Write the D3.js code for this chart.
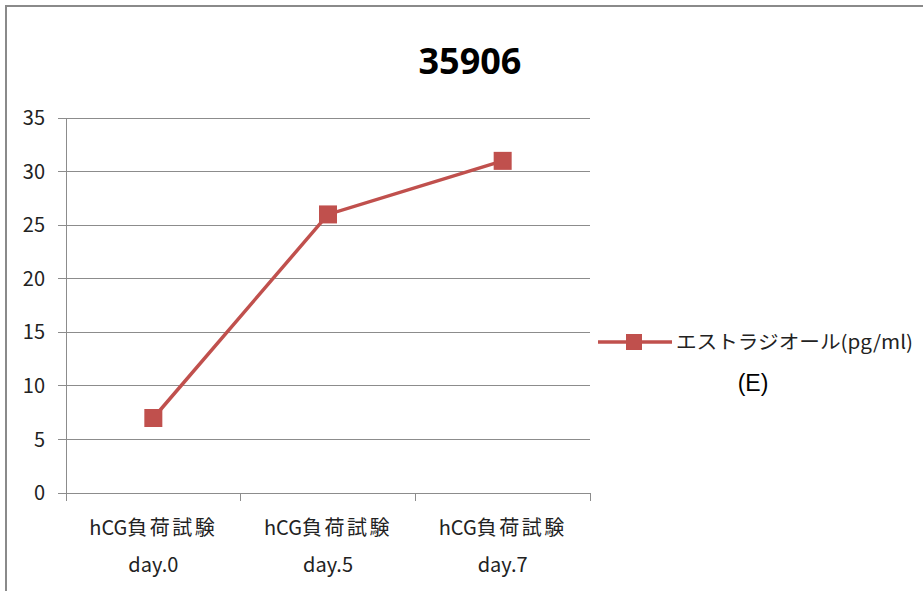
<!DOCTYPE html>
<html><head><meta charset="utf-8">
<script src="https://cdn.jsdelivr.net/npm/d3@7"></script>
<style>body{margin:0;background:#fff}svg{display:block}</style>
</head><body>
<svg id="c" width="923" height="591"></svg>
<script>
const categories = ["hCG負荷試験\nday.0", "hCG負荷試験\nday.5", "hCG負荷試験\nday.7"];
const values = [7, 26, 31];
const yTicks = [0, 5, 10, 15, 20, 25, 30, 35];
const title = "35906";
const seriesName = ["エストラジオール(pg/ml)", "(E)"];

(function(){
const svg = d3.select("#c");
const color = "#C0504D";
const font = "'Noto Sans CJK JP', 'Open Sans', sans-serif";
const pL = 66, pR = 590, pT = 118, pB = 493;

svg.append("path").attr("d","M6,600 V6 H930").attr("fill","none").attr("stroke","#8a8a8a").attr("stroke-width",2);

const x = d3.scaleBand().domain(categories).range([pL, pR]);
const y = d3.scaleLinear().domain([0, 35]).range([pB, pT]);

svg.append("g").selectAll("line").data(yTicks).join("line")
  .attr("x1", pL - 8).attr("x2", pR).attr("y1", d => y(d)).attr("y2", d => y(d))
  .attr("stroke", "#8c8c8c").attr("stroke-width", 1).attr("shape-rendering","crispEdges");
svg.append("line").attr("x1",pL).attr("x2",pL).attr("y1",pT).attr("y2",pB+8)
  .attr("stroke","#8c8c8c").attr("shape-rendering","crispEdges");
const bounds = categories.map(c => x(c)).concat([pR]);
svg.append("g").selectAll("line").data(bounds).join("line")
  .attr("x1", d => d).attr("x2", d => d).attr("y1", pB).attr("y2", pB + 8)
  .attr("stroke", "#8c8c8c").attr("shape-rendering","crispEdges");

svg.append("g").selectAll("text").data(yTicks).join("text")
  .attr("x", 45).attr("y", d => y(d)).attr("dy","0.36em").attr("text-anchor","end")
  .attr("font-family", font).attr("font-size", 20).attr("fill","#222").text(d => d);

const cx = d => x(d) + x.bandwidth()/2;
const xl = svg.append("g").selectAll("g").data(categories).join("g");
xl.each(function(d){
  const g = d3.select(this);
  const [l1, l2] = d.split("\n");
  const m = l1.match(/^([A-Za-z]+)(.*)$/);
  const t1 = g.append("text").attr("x", cx(d)).attr("y", 535).attr("text-anchor","middle")
    .attr("font-family", font).attr("font-size", 20).attr("fill","#222");
  t1.append("tspan").text(m[1]);
  t1.append("tspan").attr("letter-spacing", 2.5).text(m[2]);
  g.append("text").attr("x", cx(d)).attr("y", 572).attr("text-anchor","middle")
    .attr("font-family", font).attr("font-size", 20).attr("fill","#222").text(l2);
});

const line = d3.line().x((d,i) => cx(categories[i])).y(d => y(d));
svg.append("path").datum(values).attr("d", line).attr("fill","none").attr("stroke",color).attr("stroke-width",3.5);
svg.append("g").selectAll("rect").data(values).join("rect")
  .attr("x", (d,i) => cx(categories[i]) - 9).attr("y", d => y(d) - 9)
  .attr("width", 18).attr("height", 18).attr("fill", color);

svg.append("text").attr("x", 470).attr("y", 74).attr("text-anchor","middle")
  .attr("font-family", "'Open Sans', sans-serif").attr("font-weight","bold").attr("font-size", 36).attr("fill","#000").text(title);

svg.append("line").attr("x1",598).attr("x2",672).attr("y1",342).attr("y2",342).attr("stroke",color).attr("stroke-width",3.5);
svg.append("rect").attr("x",626).attr("y",334).attr("width",16).attr("height",16).attr("fill",color);
svg.append("text").attr("x",676).attr("y",349).attr("font-family",font).attr("font-size",19).attr("fill","#222")
  .attr("textLength",237).attr("lengthAdjust","spacingAndGlyphs").text(seriesName[0]);
svg.append("text").attr("x",753).attr("y",391).attr("text-anchor","middle").attr("font-family","'Liberation Sans', sans-serif").attr("font-size",23).attr("fill","#000").text(seriesName[1]);
})();
</script>
</body></html>
